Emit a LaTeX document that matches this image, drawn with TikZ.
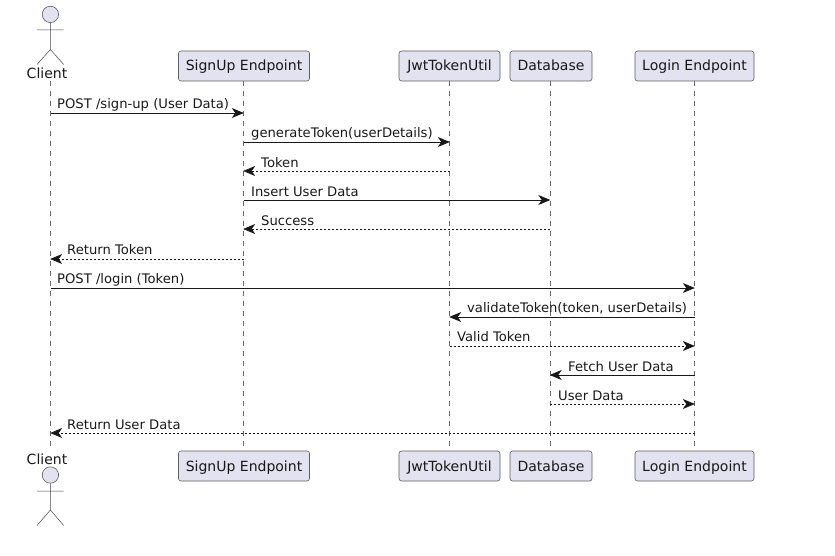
\documentclass[tikz,border=0pt]{standalone}
\usepackage{fontspec}
\setmainfont{DejaVu Sans}
\usetikzlibrary{arrows.meta,calc}
\definecolor{boxfill}{HTML}{E2E2F0}
\definecolor{ink}{HTML}{181818}
\tikzset{
  part/.style={draw=ink!70,line width=0.6pt,fill=boxfill,rounded corners=2.5pt,minimum height=30pt,inner sep=0pt,text=ink,text height=13pt,text depth=3pt,font=\fontsize{14}{16}\selectfont},
  lifeline/.style={draw=ink!65,line width=0.5pt,dash pattern=on 5pt off 5pt},
  msg/.style={draw=ink,line width=0.9pt,-{Stealth[length=12pt,width=10pt,inset=3.5pt]},shorten >=-0.3pt},
  reply/.style={msg,line width=0.7pt,dash pattern=on 2pt off 2pt},
  lab/.style={anchor=base west,inner sep=0pt,text=ink,font=\fontsize{13.15}{15}\selectfont},
  actorname/.style={anchor=base,inner sep=0pt,text=ink,font=\fontsize{14}{16}\selectfont},
  limb/.style={draw=ink!80,line width=0.5pt},
  head/.style={circle,draw=ink!80,line width=0.5pt,fill=boxfill,minimum size=16.4pt,inner sep=0pt}
}
\begin{document}
\begin{tikzpicture}[x=1pt,y=-1pt]
\useasboundingbox (0,0) rectangle (835,556);
\coordinate (ct) at (50.5,81);
\coordinate (cb) at (50.5,450);
\node[part,minimum width=131pt] (su) at (244,66) {SignUp Endpoint};
\node[part,minimum width=131pt] (sub) at (244,466) {SignUp Endpoint};
\node[part,minimum width=101pt] (jw) at (449.5,66) {JwtTokenUtil};
\node[part,minimum width=101pt] (jwb) at (449.5,466) {JwtTokenUtil};
\node[part,minimum width=82pt] (db) at (551,66) {Database};
\node[part,minimum width=82pt] (dbb) at (551,466) {Database};
\node[part,minimum width=119pt] (lg) at (694.5,66) {Login Endpoint};
\node[part,minimum width=119pt] (lgb) at (694.5,466) {Login Endpoint};
\coordinate (sl) at ($(su.south)+(-0.5,0)$);
\coordinate (dl) at ($(db.south)+(-1,0)$);
\draw[lifeline] (ct) -- (cb);
\draw[lifeline] (sl) -- (sl |- sub.north);
\draw[lifeline] (jw.south) -- (jwb.north);
\draw[lifeline] (dl) -- (dl |- dbb.north);
\draw[lifeline] (lg.south) -- (lgb.north);
% actor top
\node[head] (h1) at (50.4,14.4) {};
\draw[limb] (h1.south) -- (50.4,49.5) (37,30) -- (63.7,30) (37,64.5) -- (50.4,49.5) -- (63.7,64.5);
\node[actorname] (c1) at (47,79) {Client};
% actor bottom
\node[actorname] (c2) at (47,464) {Client};
\node[head] (h2) at (50.4,475) {};
\draw[limb] (h2.south) -- (50.4,510) (37,491) -- (63.7,491) (37,525.5) -- (50.4,510) -- (63.7,525.5);
% messages
\draw[msg]   (ct |- 0,113) -- (sl |- 0,113);
\draw[msg]   (sl |- 0,142) -- (jw |- 0,142);
\draw[reply] (jw |- 0,171) -- (sl |- 0,171);
\draw[msg]   (sl |- 0,200) -- (dl |- 0,200);
\draw[reply] (dl |- 0,229) -- (sl |- 0,229);
\draw[reply] (sl |- 0,259) -- (ct |- 0,259);
\draw[msg]   (ct |- 0,288) -- (lg |- 0,288);
\draw[msg]   (lg |- 0,317) -- (jw |- 0,317);
\draw[reply] (jw |- 0,346) -- (lg |- 0,346);
\draw[msg]   (lg |- 0,375) -- (dl |- 0,375);
\draw[reply] (dl |- 0,404) -- (lg |- 0,404);
\draw[reply] (lg |- 0,433) -- (ct |- 0,433);
% labels
\node[lab] (m1) at (57,108.7) {POST /sign-up (User Data)};
\node[lab] (m2) at (251,137.7) {generateToken(userDetails)};
\node[lab] (m3) at (261,167.7) {Token};
\node[lab] (m4) at (251,196.5) {Insert User Data};
\node[lab] (m5) at (261,225.5) {Success};
\node[lab] (m6) at (67,254.5) {Return Token};
\node[lab] (m7) at (57,283.7) {POST /login (Token)};
\node[lab] (m8) at (467,312.7) {validateToken(token, userDetails)};
\node[lab] (m9) at (457,341.7) {Valid Token};
\node[lab] (m10) at (568,371.5) {Fetch User Data};
\node[lab] (m11) at (558,400.5) {User Data};
\node[lab] (m12) at (67,429.5) {Return User Data};
\end{tikzpicture}
\end{document}
